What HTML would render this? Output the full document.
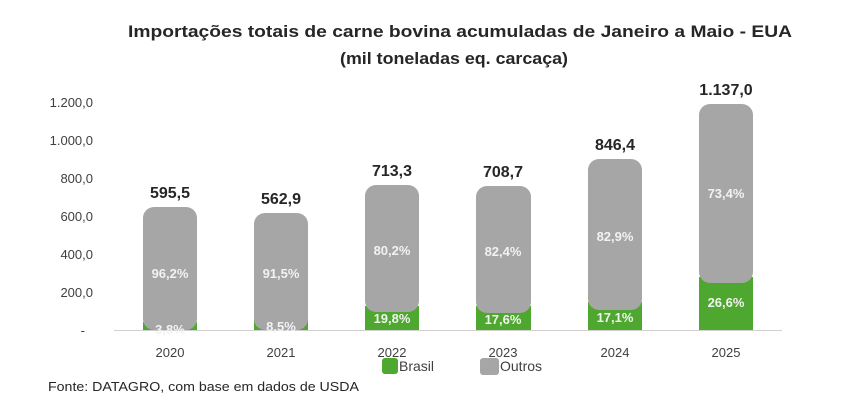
<!DOCTYPE html>
<html><head><meta charset="utf-8"><style>
html,body{margin:0;padding:0;background:#fff;}
svg{display:block;font-family:"Liberation Sans",sans-serif;}
</style></head><body>
<svg width="850" height="412" viewBox="0 0 850 412" xmlns="http://www.w3.org/2000/svg">
<rect width="850" height="412" fill="#fff"/>
<g font-weight="bold" fill="#262626" font-size="17" text-anchor="middle">
<text x="460" y="37" textLength="664" lengthAdjust="spacingAndGlyphs">Importações totais de carne  bovina acumuladas de Janeiro a  Maio - EUA</text>
<text x="454" y="64" textLength="228" lengthAdjust="spacingAndGlyphs">(mil toneladas eq. carcaça)</text>
</g>
<g font-size="13" fill="#404040" text-anchor="end">
<text x="93" y="107">1.200,0</text>
<text x="93" y="145">1.000,0</text>
<text x="93" y="183">800,0</text>
<text x="93" y="221">600,0</text>
<text x="93" y="259">400,0</text>
<text x="93" y="297">200,0</text>
<text x="85" y="335">-</text>
</g>
<line x1="114" y1="330.5" x2="782" y2="330.5" stroke="#d0d0d0" stroke-width="1"/>
<!-- bars -->
<g>
<rect x="143" y="322" width="54" height="8" fill="#4ea72e"/>
<rect x="143" y="207" width="54" height="123" rx="11" fill="#a6a6a6"/>
<rect x="254" y="316" width="54" height="14" fill="#4ea72e"/>
<rect x="254" y="213" width="54" height="117" rx="11" fill="#a6a6a6"/>
<rect x="365" y="306" width="54" height="24" fill="#4ea72e"/>
<rect x="365" y="185" width="54" height="127" rx="11" fill="#a6a6a6"/>
<rect x="476" y="306" width="55" height="24" fill="#4ea72e"/>
<rect x="476" y="186" width="55" height="127" rx="11" fill="#a6a6a6"/>
<rect x="588" y="302" width="54" height="28" fill="#4ea72e"/>
<rect x="588" y="159" width="54" height="151" rx="11" fill="#a6a6a6"/>
<rect x="699" y="277" width="54" height="53" fill="#4ea72e"/>
<rect x="699" y="104" width="54" height="179" rx="11" fill="#a6a6a6"/>
</g>
<g font-size="16" font-weight="bold" fill="#262626" text-anchor="middle">
<text x="170" y="198">595,5</text>
<text x="281" y="204">562,9</text>
<text x="392" y="176">713,3</text>
<text x="503" y="177">708,7</text>
<text x="615" y="150">846,4</text>
<text x="726" y="95">1.137,0</text>
</g>
<g font-size="13" font-weight="bold" fill="#f2f2f2" text-anchor="middle">
<text x="170" y="278">96,2%</text>
<text x="281" y="278">91,5%</text>
<text x="392" y="255">80,2%</text>
<text x="503" y="256">82,4%</text>
<text x="615" y="241">82,9%</text>
<text x="726" y="198">73,4%</text>
<text x="170" y="334">3,8%</text>
<text x="281" y="331">8,5%</text>
<text x="392" y="323">19,8%</text>
<text x="503" y="324">17,6%</text>
<text x="615" y="322">17,1%</text>
<text x="726" y="307">26,6%</text>
</g>
<g font-size="13" fill="#404040" text-anchor="middle">
<text x="170" y="357">2020</text>
<text x="281" y="357">2021</text>
<text x="392" y="357">2022</text>
<text x="503" y="357">2023</text>
<text x="615" y="357">2024</text>
<text x="726" y="357">2025</text>
</g>
<rect x="382" y="358" width="16" height="16" rx="3" fill="#4ea72e"/>
<text x="399" y="371" font-size="14" fill="#404040">Brasil</text>
<rect x="480" y="358" width="19" height="17" rx="3" fill="#a6a6a6"/>
<text x="500" y="371" font-size="14" fill="#404040">Outros</text>
<text x="48" y="391" font-size="13" fill="#262626" textLength="311" lengthAdjust="spacingAndGlyphs">Fonte: DATAGRO, com base em dados de USDA</text>
</svg>
</body></html>
